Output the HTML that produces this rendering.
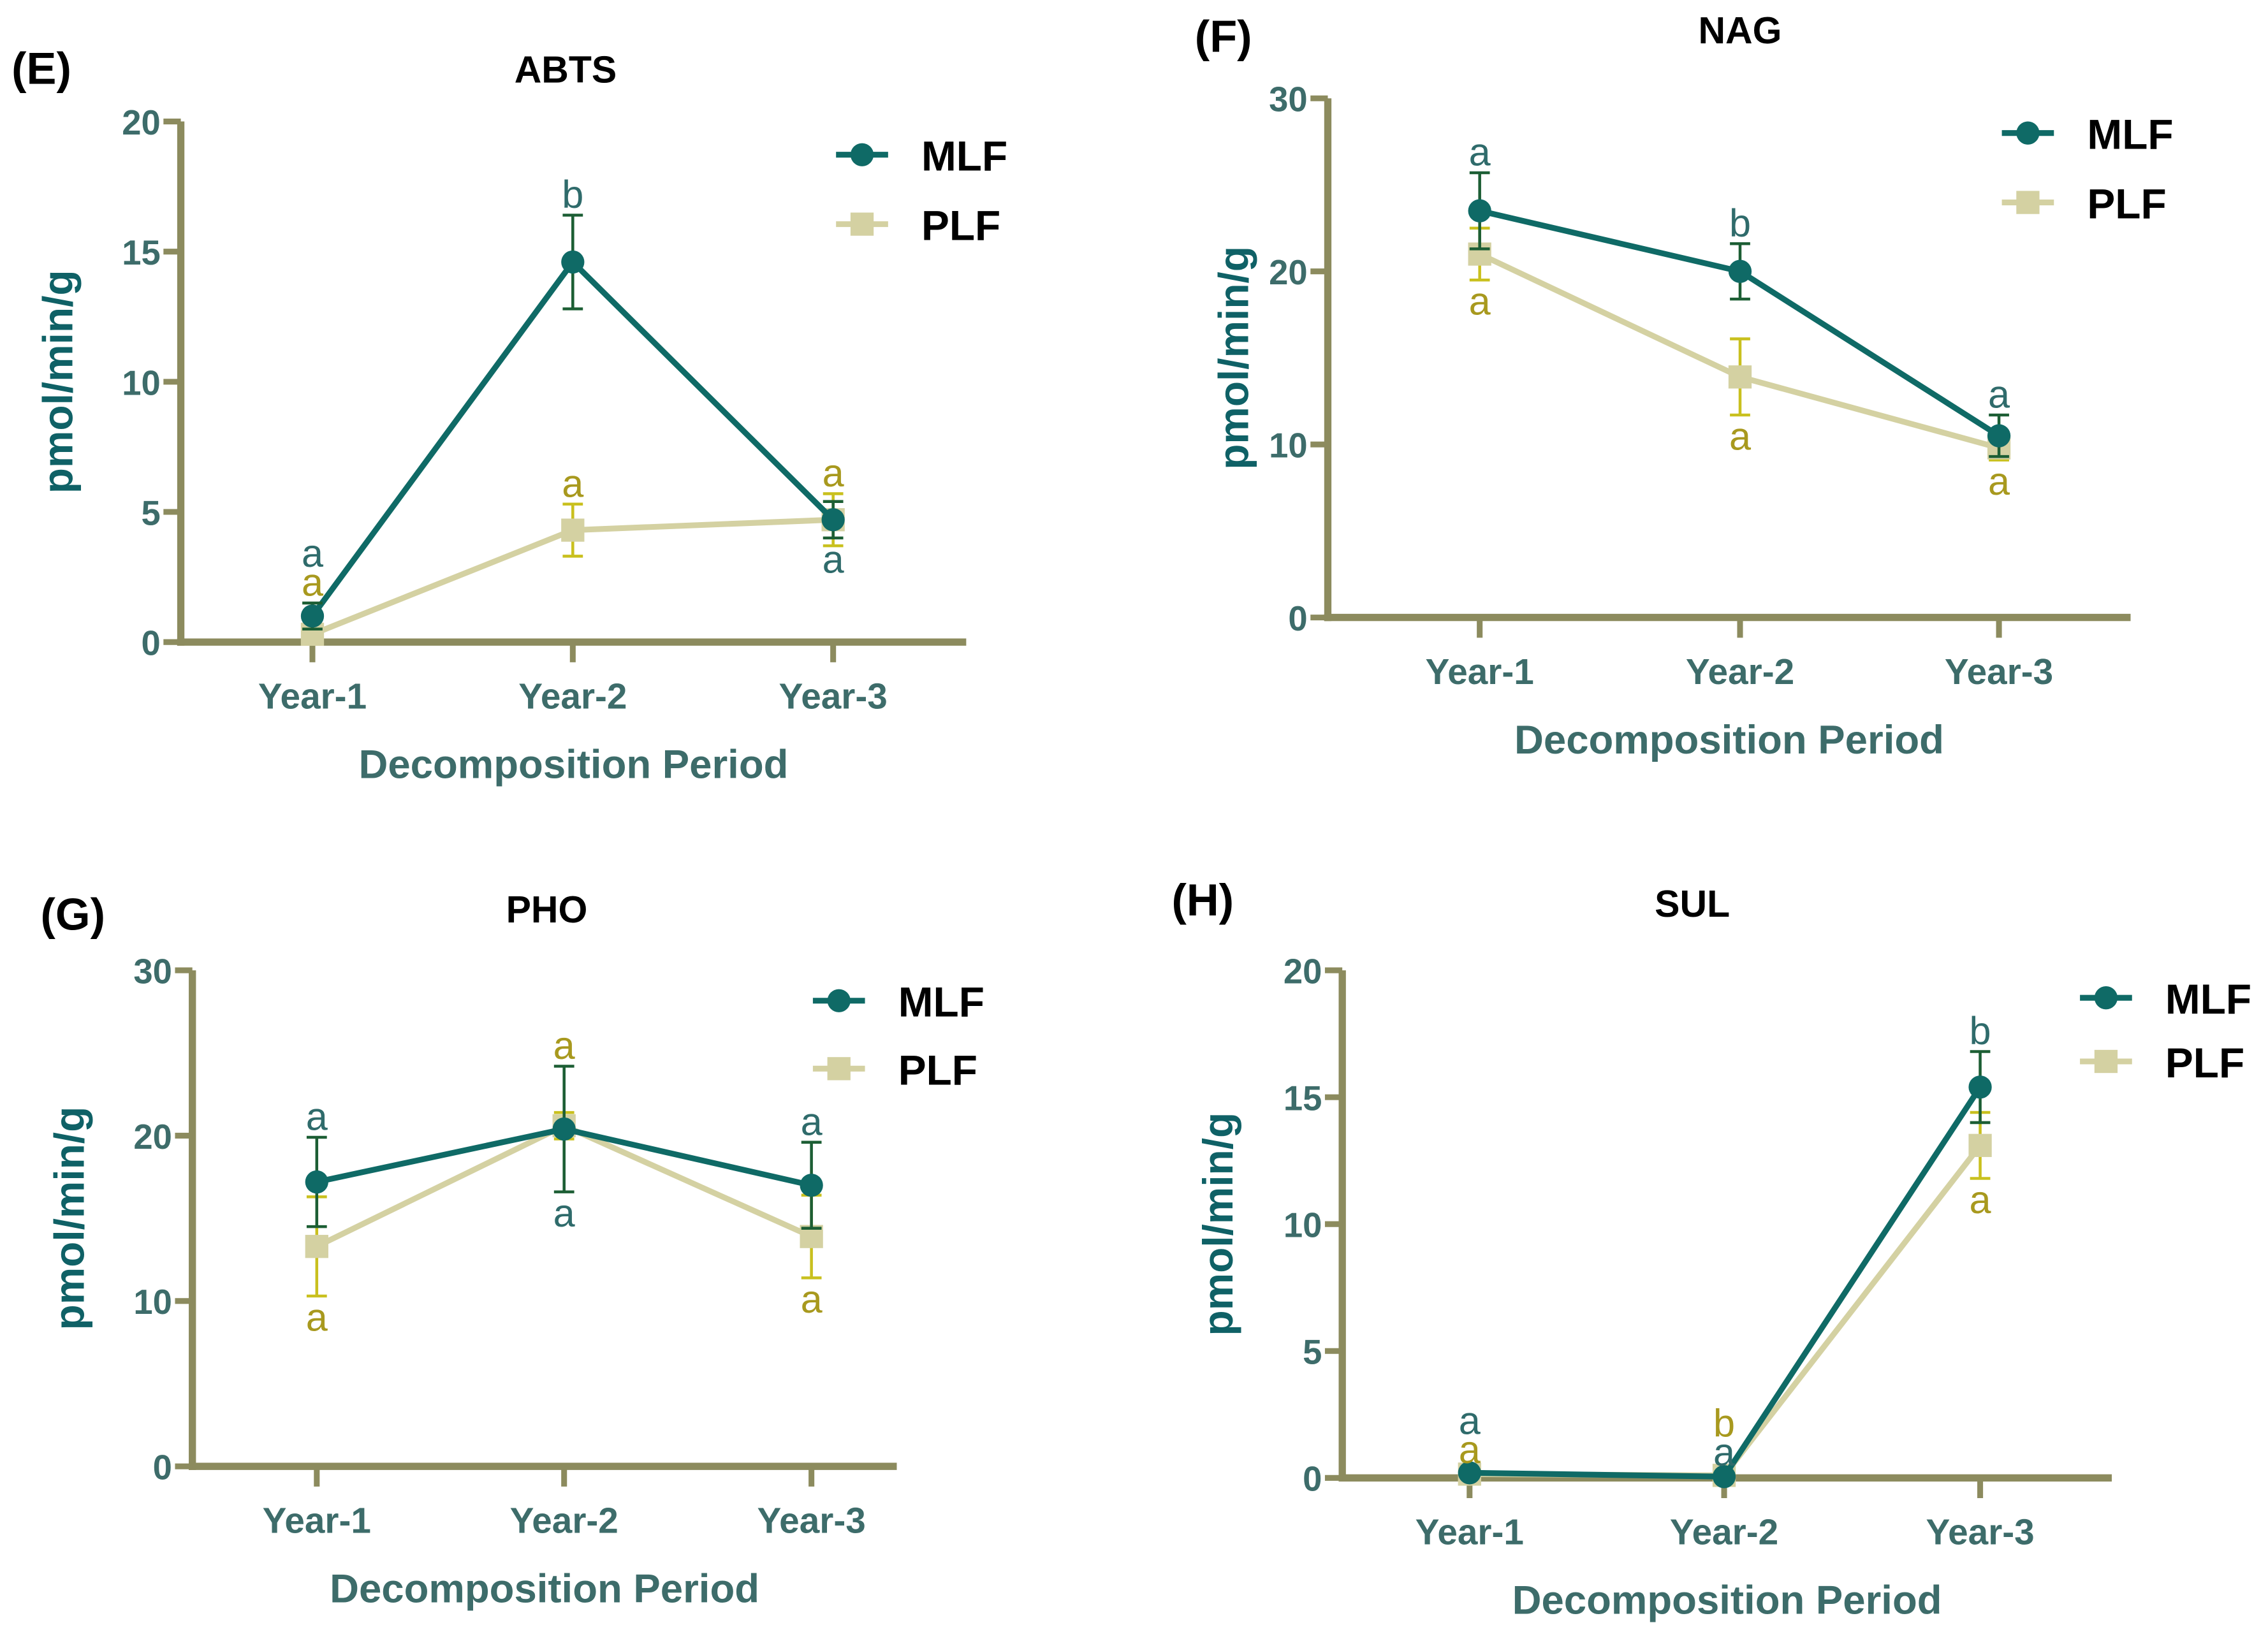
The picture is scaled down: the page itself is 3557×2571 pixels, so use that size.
<!DOCTYPE html>
<html><head><meta charset="utf-8"><style>
html,body{margin:0;padding:0;background:#fff}
svg{display:block}
text{font-family:"Liberation Sans",sans-serif}
</style></head><body>
<svg id="fig" width="3557" height="2571" viewBox="0 0 1568 1133.4" preserveAspectRatio="none" xmlns="http://www.w3.org/2000/svg"></svg>
<script>
const categories = ["Year-1","Year-2","Year-3"];
// Panel E: ABTS
const abtsMLF = [1.0, 14.6, 4.7];
const abtsMLFerr = [0.5, 1.8, 0.7];
const abtsPLF = [0.3, 4.3, 4.7];
const abtsPLFerr = [0.3, 1.0, 1.0];
const abtsTicks = [0,5,10,15,20];
// Panel F: NAG
const nagMLF = [23.5, 20.0, 10.5];
const nagMLFerr = [2.2, 1.6, 1.2];
const nagPLF = [21.0, 13.9, 9.8];
const nagPLFerr = [1.5, 2.2, 0.7];
const nagTicks = [0,10,20,30];
// Panel G: PHO
const phoMLF = [17.2, 20.4, 17.0];
const phoMLFerr = [2.7, 3.8, 2.6];
const phoPLF = [13.3, 20.6, 13.9];
const phoPLFerr = [3.0, 0.8, 2.5];
const phoTicks = [0,10,20,30];
// Panel H: SUL
const sulMLF = [0.2, 0.05, 15.4];
const sulMLFerr = [0.1, 0.05, 1.4];
const sulPLF = [0.15, 0.1, 13.1];
const sulPLFerr = [0.1, 0.1, 1.3];
const sulTicks = [0,5,10,15,20];
// significance letters: [MLF letter, PLF letter] per category
const abtsLetters = [["a","a"],["b","a"],["a","a"]];
const nagLetters = [["a","a"],["b","a"],["a","a"]];
const phoLetters = [["a","a"],["a","a"],["a","a"]];
const sulLetters = [["a","a"],["a","b"],["b","a"]];

const NS="http://www.w3.org/2000/svg";
const svg=document.getElementById('fig');
const C={mlf:"#0f6a66",plf:"#d4d1a2",axis:"#8c8b5e",tick:"#3d6c6a",mErr:"#1c5e34",pErr:"#c9c01e",mLet:"#2f6b6b",pLet:"#a8991e",ytitle:"#0f6166"};
function el(tag,attrs,parent){const e=document.createElementNS(NS,tag);for(const k in attrs)e.setAttribute(k,attrs[k]);(parent||svg).appendChild(e);return e;}
function txt(s,attrs,parent){const e=el('text',attrs,parent);e.textContent=s;return e;}

function panel(cfg){
  const g=el('g',{});
  
  
  const {x0,x1,y0,ytop,ymax,ticks,xs}=cfg;
  const Y=v=>y0-(v/ymax)*(y0-ytop);
  const X=i=>xs[i];
  let t=txt(cfg.label,{x:cfg.labelX,y:cfg.labelY,'font-size':31,'font-weight':'bold',fill:'#000'},g);
  
  t=txt(cfg.title,{x:cfg.titleX,y:cfg.titleY,'font-size':26,'font-weight':'bold','text-anchor':'middle',fill:'#000'},g);
  
  let a=el('line',{x1:x0,y1:ytop,x2:x0,y2:y0+2.5,stroke:C.axis,'stroke-width':5},g);
  
  a=el('line',{x1:x0-2.5,y1:y0,x2:x1,y2:y0,stroke:C.axis,'stroke-width':5},g);
  
  ticks.forEach(v=>{
    el('line',{x1:x0-12,y1:Y(v),x2:x0,y2:Y(v),stroke:C.axis,'stroke-width':4},g);
    const l=txt(String(v),{x:x0-14,y:Y(v)+9,'font-size':24,'font-weight':'bold','text-anchor':'end',fill:C.tick},g);
    
  });
  categories.forEach((c,i)=>{
    el('line',{x1:X(i),y1:y0,x2:X(i),y2:y0+14,stroke:C.axis,'stroke-width':4},g);
    const l=txt(c,{x:X(i),y:y0+46,'font-size':25,'font-weight':'bold','text-anchor':'middle',fill:C.tick},g);
    
  });
  t=txt('Decomposition Period',{x:(x0+x1)/2,y:y0+94,'font-size':28,'font-weight':'bold','text-anchor':'middle',fill:C.tick},g);
  
  const ycy=(y0+ytop)/2+cfg.ytOff;
  t=txt('pmol/min/g',{x:0,y:0,transform:`translate(${cfg.ytX},${ycy}) rotate(-90)`,'font-size':29,'font-weight':'bold','text-anchor':'middle',fill:C.ytitle},g);
  
  function series(vals,errs,color,ecol,kind,nm){
    const sg=el('g',{},g);
    
    const pl=el('polyline',{points:vals.map((v,i)=>X(i)+','+Y(v)).join(' '),fill:'none',stroke:color,'stroke-width':4},sg);
    
    vals.forEach((v,i)=>{
      const e=el('path',{d:`M${X(i)},${Y(v+errs[i])}V${Y(v-errs[i])}M${X(i)-7},${Y(v+errs[i])}h14M${X(i)-7},${Y(v-errs[i])}h14`,stroke:ecol,'stroke-width':2,fill:'none'},sg);
      
      let m;
      if(kind==='c') m=el('circle',{cx:X(i),cy:Y(v),r:8,fill:color},sg);
      else m=el('rect',{x:X(i)-8,y:Y(v)-8,width:16,height:16,fill:color},sg);
      
    });
  }
  series(cfg.plf,cfg.plfErr,C.plf,C.pErr,'s','plf');
  series(cfg.mlf,cfg.mlfErr,C.mlf,C.mErr,'c','mlf');
  cfg.letters.forEach((pair,i)=>{
    const mTop=cfg.mlf[i]+cfg.mlfErr[i], pTop=cfg.plf[i]+cfg.plfErr[i];
    const mBot=cfg.mlf[i]-cfg.mlfErr[i], pBot=cfg.plf[i]-cfg.plfErr[i];
    const pos=cfg.letterPos[i];
    const bothUpNoStack = pos[0]==='up'&&pos[1]==='up'&&pos[2]==='';
    const shared=Math.max(mTop,pTop);
    const place=(s,col,where,top,bot,stack,nm)=>{
      const ref= bothUpNoStack? top : shared;
      const y= where==='up'? Y(ref)-5-stack*20 : Y(bot)+24;
      const l=txt(s,{x:X(i),y:y,'font-size':27,'text-anchor':'middle',fill:col},g);
      
    };
    place(pair[0],C.mLet,pos[0],mTop,mBot,pos[2]==='m'?1:0,'mlf-significance-letter');
    place(pair[1],C.pLet,pos[1],pTop,pBot,pos[2]==='p'?1:0,'plf-significance-letter');
  });
  const lg=el('g',{},g);
  
  const [lx,ly1,ly2]=cfg.legend;
  let e=el('g',{},lg);
  el('line',{x1:lx,y1:ly1,x2:lx+36,y2:ly1,stroke:C.mlf,'stroke-width':4},e);
  el('circle',{cx:lx+18,cy:ly1,r:8,fill:C.mlf},e);
  txt('MLF',{x:lx+59,y:ly1+11,'font-size':29,'font-weight':'bold',fill:'#000'},e);
  e=el('g',{},lg);
  el('line',{x1:lx,y1:ly2,x2:lx+36,y2:ly2,stroke:C.plf,'stroke-width':4},e);
  el('rect',{x:lx+10,y:ly2-8,width:16,height:16,fill:C.plf},e);
  txt('PLF',{x:lx+59,y:ly2+11,'font-size':29,'font-weight':'bold',fill:'#000'},e);
}

panel({name:'abts',label:'(E)',labelX:8,labelY:58,title:'ABTS',titleX:391,titleY:57,
  x0:125,x1:668,y0:444,ytop:84,ymax:20,ticks:abtsTicks,xs:[216,396,576],ytX:50,ytOff:0,
  mlf:abtsMLF,mlfErr:abtsMLFerr,plf:abtsPLF,plfErr:abtsPLFerr,letters:abtsLetters,
  letterPos:[['up','up','m'],['up','up',''],['down','up','']],legend:[578,107,155]});
panel({name:'nag',label:'(F)',labelX:826,labelY:36,title:'NAG',titleX:1203,titleY:30,
  x0:918,x1:1473,y0:427,ytop:68,ymax:30,ticks:nagTicks,xs:[1023,1203,1382],ytX:863,ytOff:0,
  mlf:nagMLF,mlfErr:nagMLFerr,plf:nagPLF,plfErr:nagPLFerr,letters:nagLetters,
  letterPos:[['up','down',''],['up','down',''],['up','down','']],legend:[1384,92,140]});
panel({name:'pho',label:'(G)',labelX:28,labelY:643,title:'PHO',titleX:378,titleY:638,
  x0:133,x1:620,y0:1014,ytop:671,ymax:30,ticks:phoTicks,xs:[219,390,561],ytX:58,ytOff:0,
  mlf:phoMLF,mlfErr:phoMLFerr,plf:phoPLF,plfErr:phoPLFerr,letters:phoLetters,
  letterPos:[['up','down',''],['down','up',''],['up','down','']],legend:[562,692,739]});
panel({name:'sul',label:'(H)',labelX:810,labelY:633,title:'SUL',titleX:1170,titleY:634,
  x0:928,x1:1460,y0:1022,ytop:671,ymax:20,ticks:sulTicks,xs:[1016,1192,1369],ytX:852,ytOff:0,
  mlf:sulMLF,mlfErr:sulMLFerr,plf:sulPLF,plfErr:sulPLFerr,letters:sulLetters,
  letterPos:[['up','up','m'],['up','up','p'],['up','down','']],legend:[1438,690,734]});
</script>
</body></html>
